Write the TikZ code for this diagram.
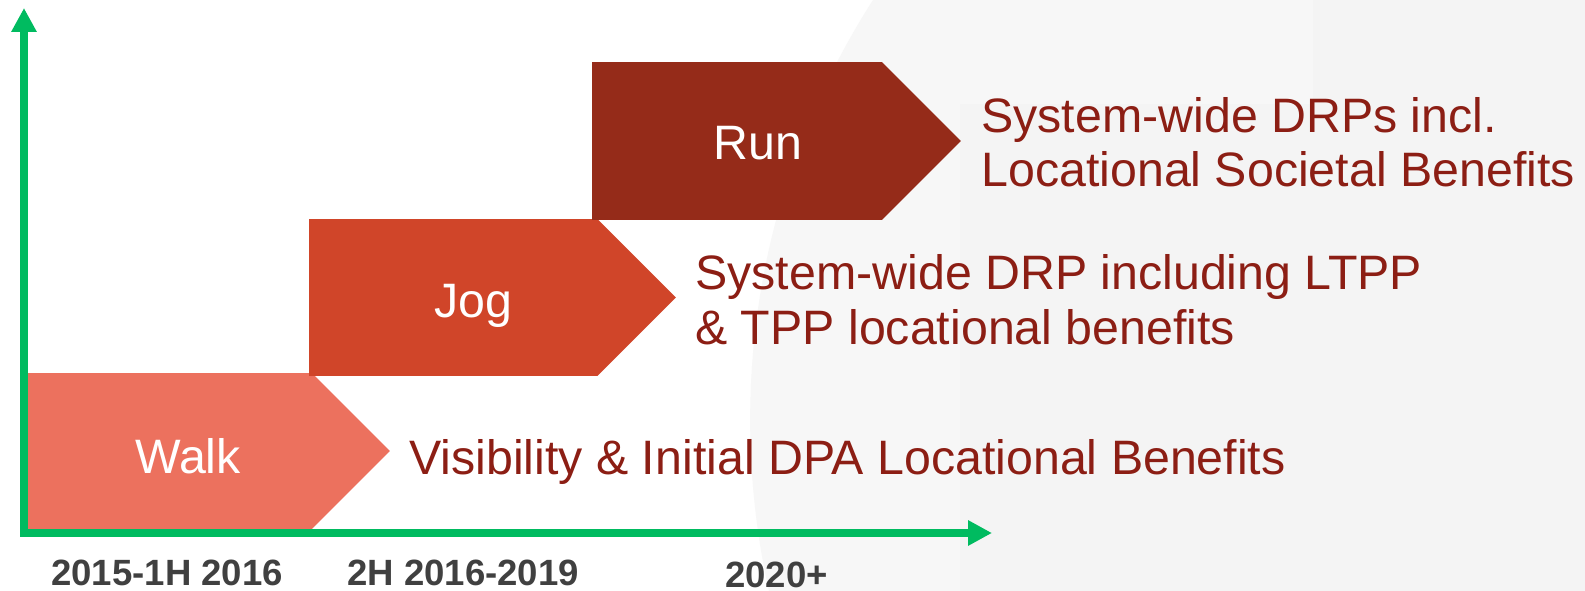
\documentclass[tikz,border=0pt]{standalone}
\usepackage{fontspec}
\setmainfont{Liberation Sans}
\usetikzlibrary{shapes.symbols, arrows.meta, positioning}
\definecolor{walkcolor}{RGB}{236,113,94}
\definecolor{jogcolor}{RGB}{208,69,41}
\definecolor{runcolor}{RGB}{149,43,25}
\definecolor{benefitcolor}{RGB}{140,30,20}
\definecolor{axiscolor}{RGB}{0,187,96}
\definecolor{periodcolor}{RGB}{64,64,64}
\definecolor{shadecolor}{RGB}{247,247,247}
\definecolor{panelcolor}{RGB}{244,244,244}

\begin{document}
\begin{tikzpicture}[
    x=0.02cm, y=-0.02cm,
    stage/.style={signal, signal to=east, signal pointer angle=90, inner sep=0pt, outer sep=0pt, anchor=west},
    stagetext/.style={anchor=base, inner sep=0pt, text=white, font=\fontsize{27.5pt}{31pt}\selectfont},
    benefit/.style={anchor=base west, align=left, inner sep=0pt, text=benefitcolor, font=\fontsize{27.5pt}{31.3pt}\selectfont},
    period/.style={anchor=base west, inner sep=0pt, text=periodcolor, font=\fontsize{20.8pt}{24pt}\selectfont\bfseries},
    axis/.style={line width=4pt, draw=axiscolor, {Triangle[length=0.48cm, width=0.48cm]}-{Triangle[length=0.48cm, width=0.48cm]}}
]

    % Slide background
    \fill[white] (0,0) rectangle (1585,591);
    \begin{scope}
        \clip (0,0) rectangle (1585,591);
        \fill[shadecolor] (1529,420) circle (15.58cm);
        \fill[panelcolor] (960,104) rectangle (1585,591);
        \fill[panelcolor] (1313,0) rectangle (1585,104);
    \end{scope}

    % Stages
    \node[stage, fill=walkcolor, minimum width=7.32cm, minimum height=3.12cm] (walk) at (24,451) {};
    \node[stage, fill=jogcolor, minimum width=7.34cm, minimum height=3.14cm] (jog) at (309,297.5) {};
    \node[stage, fill=runcolor, minimum width=7.38cm, minimum height=3.16cm] (run) at (592,141) {};

    \node[stagetext] (walklabel) at (188,473) {Walk};
    \node[stagetext] (joglabel) at (473,317) {Jog};
    \node[stagetext] (runlabel) at (758,160) {Run};

    % Benefits of each stage (base is the last line)
    \node[benefit] (walkgain) at (409,474) {Visibility \& Initial DPA Locational Benefits};
    \node[benefit] (joggain) at (695,344) {System-wide DRP including LTPP\\\& TPP locational benefits};
    \node[benefit] (rungain) at (981,187) {System-wide DRPs incl.\\Locational Societal Benefits};

    % Axes
    \coordinate (origin) at (24,533);
    \coordinate (ytop) at (24,8);
    \coordinate (xend) at (992,533);
    \draw[axis] (ytop) -- (origin) -- (xend);

    % Time periods
    \node[period] (first) at (51,585) {2015-1H 2016};
    \node[period] (second) at (347,585) {2H 2016-2019};
    \node[period] (third) at (725,587.5) {2020+};

\end{tikzpicture}
\end{document}
